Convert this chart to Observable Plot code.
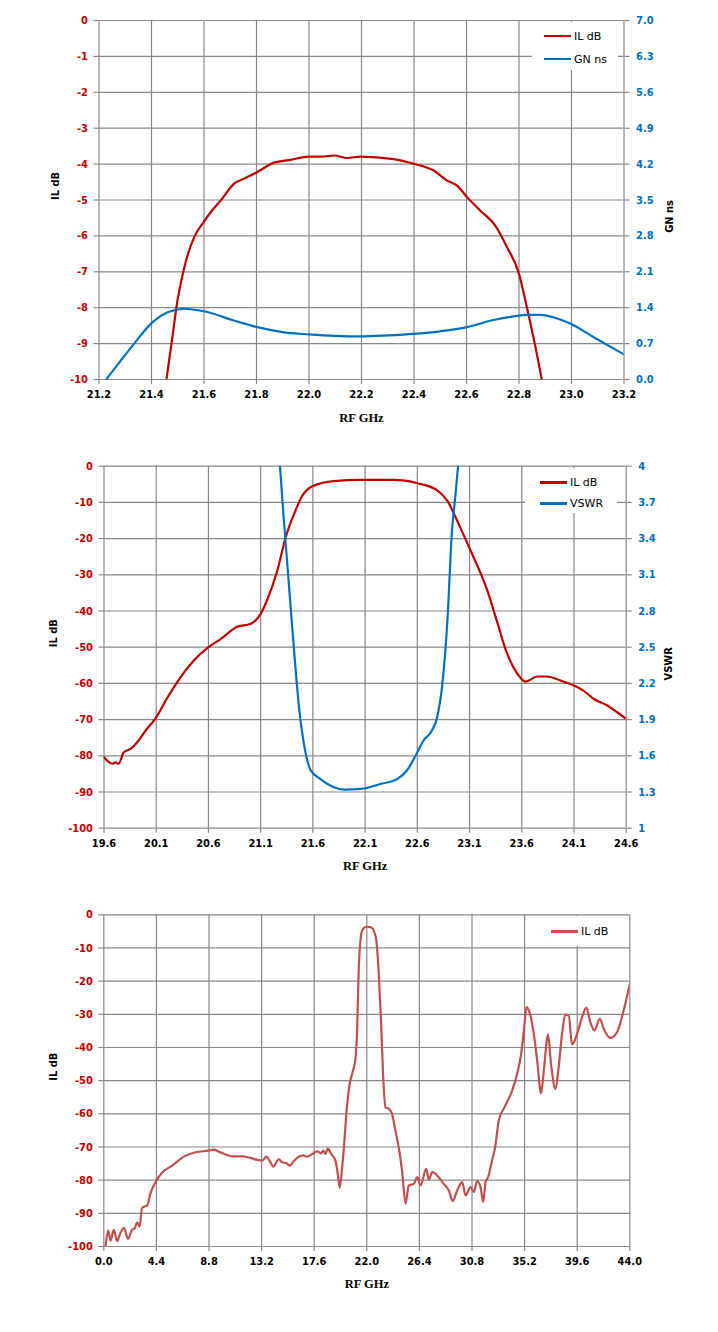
<!DOCTYPE html>
<html><head><meta charset="utf-8">
<script src="https://cdn.jsdelivr.net/npm/d3@7"></script>
<script src="https://cdn.jsdelivr.net/npm/@observablehq/plot@0.6"></script>
<style>
body{margin:0;background:#fff;}
.chart{position:relative;width:718px;overflow:hidden;}
.chart svg{position:absolute;left:0;top:0;}
.legend{position:absolute;background:#fff;z-index:5;}
.row{position:absolute;display:flex;align-items:center;height:14px;font:11px "DejaVu Sans",sans-serif;color:#000;white-space:nowrap;}
.sw{width:27px;height:2.5px;margin-right:3px;}
</style>
</head><body>
<div id="c1" class="chart" style="height:445px"></div>
<div id="c2" class="chart" style="height:445px"></div>
<div id="c3" class="chart" style="height:442px"></div>
<script>
// ---------- data ----------
const x1Ticks = [21.2, 21.4, 21.6, 21.8, 22.0, 22.2, 22.4, 22.6, 22.8, 23.0, 23.2];
const y1Ticks = [0, -1, -2, -3, -4, -5, -6, -7, -8, -9, -10];
const y1rTicks = [0, 0.7, 1.4, 2.1, 2.8, 3.5, 4.2, 4.9, 5.6, 6.3, 7.0];
const il1 = [[21.457,-10],[21.478,-8.9],[21.499,-7.8],[21.518,-7.1],[21.537,-6.55],[21.565,-6.0],[21.6,-5.6],[21.63,-5.3],[21.664,-5.01],[21.714,-4.55],[21.76,-4.38],[21.803,-4.22],[21.867,-3.96],[21.93,-3.88],[22.0,-3.79],[22.05,-3.79],[22.095,-3.76],[22.146,-3.83],[22.196,-3.79],[22.322,-3.86],[22.399,-3.99],[22.475,-4.18],[22.526,-4.46],[22.564,-4.6],[22.602,-4.92],[22.652,-5.29],[22.709,-5.71],[22.754,-6.31],[22.798,-7.01],[22.83,-7.99],[22.86,-9.0],[22.887,-10]];
const gn1 = [[21.227,0],[21.28,0.35],[21.334,0.70],[21.404,1.12],[21.461,1.31],[21.524,1.38],[21.6,1.33],[21.714,1.15],[21.803,1.02],[21.905,0.92],[22.0,0.88],[22.1,0.85],[22.196,0.84],[22.3,0.86],[22.399,0.89],[22.5,0.94],[22.602,1.02],[22.703,1.16],[22.78,1.23],[22.83,1.26],[22.88,1.26],[22.94,1.2],[22.995,1.09],[23.083,0.83],[23.2,0.49]];

const x2Ticks = [19.6, 20.1, 20.6, 21.1, 21.6, 22.1, 22.6, 23.1, 23.6, 24.1, 24.6];
const y2Ticks = [0, -10, -20, -30, -40, -50, -60, -70, -80, -90, -100];
const y2rTicks = [1, 1.3, 1.6, 1.9, 2.2, 2.5, 2.8, 3.1, 3.4, 3.7, 4];
const il2 = [[19.6,-80.4],[19.68,-82.2],[19.71,-81.8],[19.74,-82.2],[19.79,-79.0],[19.855,-78.1],[19.92,-76.2],[20.01,-72.6],[20.09,-69.8],[20.21,-63.8],[20.30,-59.7],[20.46,-53.7],[20.6,-50.0],[20.72,-47.7],[20.88,-44.3],[21.0,-43.6],[21.1,-40.8],[21.16,-37.1],[21.26,-28.8],[21.34,-19.6],[21.42,-13.2],[21.5,-8.1],[21.59,-5.6],[21.8,-4.1],[22.06,-3.8],[22.375,-3.8],[22.6,-4.7],[22.79,-6.7],[22.886,-9.5],[23.01,-16.9],[23.11,-23.3],[23.27,-34.3],[23.36,-42.6],[23.46,-51.8],[23.56,-57.4],[23.635,-59.5],[23.75,-58.1],[23.84,-58.1],[23.97,-59.2],[24.10,-60.6],[24.19,-62.0],[24.29,-64.3],[24.42,-66.1],[24.51,-67.9],[24.6,-69.8]];
const vswr2 = [[21.285,4.0],[21.32,3.577],[21.37,3.025],[21.42,2.47],[21.47,1.978],[21.52,1.67],[21.58,1.478],[21.67,1.409],[21.8,1.34],[21.90,1.32],[22.06,1.326],[22.25,1.367],[22.41,1.409],[22.50,1.478],[22.6,1.63],[22.66,1.727],[22.74,1.81],[22.79,1.92],[22.84,2.196],[22.89,2.749],[22.93,3.44],[22.966,3.77],[22.99,4.0]];

const x3Ticks = [0, 4.4, 8.8, 13.2, 17.6, 22.0, 26.4, 30.8, 35.2, 39.6, 44.0];
const y3Ticks = [0, -10, -20, -30, -40, -50, -60, -70, -80, -90, -100];
const il3 = [[0.14,-100],[0.37,-95.2],[0.56,-98.2],[0.84,-95.0],[1.12,-98.4],[1.31,-96.7],[1.67,-94.4],[2.04,-97.7],[2.32,-95.2],[2.6,-94.4],[2.79,-92.7],[2.99,-94.0],[3.21,-88.3],[3.63,-87.6],[3.91,-83.9],[4.32,-80.6],[4.83,-77.9],[5.72,-75.6],[6.69,-72.9],[7.67,-71.6],[8.78,-71.1],[9.2,-70.8],[9.62,-71.4],[10.74,-72.8],[11.58,-72.8],[12.27,-73.3],[12.83,-73.9],[13.25,-74.1],[13.61,-72.9],[13.89,-74.3],[14.17,-75.9],[14.64,-73.7],[14.92,-74.6],[15.28,-74.9],[15.56,-75.6],[15.89,-74.3],[16.23,-73.1],[16.68,-72.5],[17.01,-72.9],[17.43,-72.1],[17.85,-71.3],[18.18,-71.9],[18.35,-71.1],[18.54,-72.1],[18.74,-70.5],[19.02,-72.1],[19.38,-74.1],[19.57,-78.1],[19.74,-82.3],[19.94,-76.1],[20.13,-68.0],[20.3,-59.5],[20.57,-51.0],[20.85,-46.9],[21.05,-43.4],[21.19,-34.9],[21.33,-15.8],[21.47,-7.7],[21.6,-4.8],[21.8,-3.9],[22.02,-3.6],[22.3,-3.7],[22.5,-4.2],[22.65,-5.5],[22.8,-7.7],[23.0,-17.8],[23.2,-32.9],[23.36,-47.9],[23.56,-58.0],[23.84,-58.5],[24.11,-60.0],[24.39,-65.0],[24.67,-70.1],[24.95,-77.1],[25.24,-87.1],[25.51,-81.6],[25.93,-81.1],[26.22,-79.1],[26.49,-81.6],[26.97,-76.6],[27.19,-79.9],[27.47,-77.6],[27.75,-78.1],[28.02,-79.1],[28.44,-81.1],[28.86,-83.1],[29.19,-86.3],[29.56,-83.1],[29.98,-80.6],[30.26,-84.6],[30.67,-82.1],[30.95,-83.6],[31.23,-80.3],[31.51,-82.1],[31.74,-86.6],[31.93,-80.6],[32.15,-79.1],[32.45,-74.5],[32.76,-69.5],[33.04,-62.0],[33.52,-58.0],[34.16,-53.0],[34.58,-47.9],[34.91,-41.9],[35.14,-34.9],[35.36,-27.8],[35.55,-28.8],[35.97,-35.9],[36.25,-43.9],[36.58,-53.8],[36.81,-46.9],[37.16,-36.1],[37.41,-44.9],[37.78,-52.5],[38.05,-45.9],[38.33,-35.9],[38.61,-30.1],[38.89,-30.4],[39.17,-39.1],[39.59,-35.9],[40.0,-30.9],[40.37,-28.0],[40.7,-32.4],[41.04,-34.9],[41.49,-31.4],[41.82,-34.4],[42.38,-37.1],[42.93,-35.4],[43.49,-28.8],[44.0,-20.8]];

// ---------- styles ----------
const RED = "#C00000", BLUE = "#0070C0", RED3 = "#C0504D", GRID = "#878787";
const FONT = "'DejaVu Sans Condensed','Liberation Sans',sans-serif";
const SERIF = "'Liberation Serif','DejaVu Serif',serif";
const baseStyle = {fontFamily: FONT, fontSize: "11px", background: "transparent", overflow: "visible"};
const gridOpts = {stroke: GRID, strokeOpacity: 1, strokeWidth: 1.2};
const fx = d => d[0], fy = d => d[1];

function leftPlot(cfg) {
  return Plot.plot({
    width: 718, height: cfg.height,
    marginTop: cfg.mt, marginBottom: cfg.mb, marginLeft: cfg.ml, marginRight: cfg.mr,
    x: {domain: cfg.xd}, y: {domain: cfg.yd},
    style: baseStyle,
    marks: [
      Plot.gridX(cfg.xt, gridOpts),
      Plot.gridY(cfg.yt, gridOpts),
      Plot.axisX(cfg.xt, {tickSize: 5, tickPadding: 6, stroke: GRID, strokeWidth: 1.2, fill: "#000", fontWeight: "bold", tickFormat: d => d.toFixed(1), label: null}),
      Plot.axisY(cfg.yt, {anchor: "left", tickSize: 5, tickPadding: 6, stroke: GRID, strokeWidth: 1.2, fill: RED, fontWeight: "bold", tickFormat: d => String(d), label: null}),
      Plot.line(cfg.data, {x: fx, y: fy, stroke: cfg.color, strokeWidth: 2.2, curve: "monotone-x", clip: true}),
      Plot.text([cfg.ylabel], {text: d => d, frameAnchor: "left", dx: cfg.ldx, rotate: -90, fontWeight: "bold", fontSize: 11, fill: "#000"}),
      Plot.text(["RF GHz"], {text: d => d, frameAnchor: "bottom", dy: cfg.xdy, lineAnchor: "middle", fontFamily: SERIF, fontWeight: "bold", fontSize: 12.5, fill: "#000"})
    ]
  });
}
function rightPlot(cfg) {
  return Plot.plot({
    width: 718, height: cfg.height,
    marginTop: cfg.mt, marginBottom: cfg.mb, marginLeft: cfg.ml, marginRight: cfg.mr,
    x: {domain: cfg.xd, axis: null}, y: {domain: cfg.yd, axis: null},
    style: baseStyle,
    marks: [
      Plot.axisY(cfg.yt, {anchor: "right", tickSize: 5, tickPadding: 7, stroke: GRID, strokeWidth: 1.2, fill: BLUE, fontWeight: "bold", tickFormat: cfg.fmt, label: null}),
      Plot.line(cfg.data, {x: fx, y: fy, stroke: BLUE, strokeWidth: 2.2, curve: "monotone-x", clip: true}),
      Plot.text([cfg.ylabel], {text: d => d, frameAnchor: "right", dx: cfg.rdx, rotate: -90, fontWeight: "bold", fontSize: 11, fill: "#000"})
    ]
  });
}
function legend(container, box, rows) {
  const lg = document.createElement("div");
  lg.className = "legend";
  Object.assign(lg.style, {left: box[0] + "px", top: box[1] + "px", width: box[2] + "px", height: box[3] + "px"});
  rows.forEach(r => {
    const row = document.createElement("div");
    row.className = "row";
    row.style.left = r.x + "px"; row.style.top = (r.y - 7) + "px";
    const sw = document.createElement("div"); sw.className = "sw"; sw.style.background = r.color;
    const t = document.createElement("span"); t.textContent = r.label;
    row.appendChild(sw); row.appendChild(t); lg.appendChild(row);
  });
  container.appendChild(lg);
}

// ---------- chart 1 ----------
const c1 = document.getElementById("c1");
const g1 = {height: 445, mt: 20, mb: 66, ml: 98.5, mr: 94.5, xd: [21.2, 23.2]};
c1.appendChild(leftPlot({...g1, yd: [-10, 0], xt: x1Ticks, yt: y1Ticks, data: il1, color: RED, ylabel: "IL dB", ldx: -43.5, xdy: 38}));
c1.appendChild(rightPlot({...g1, yd: [0, 7], yt: y1rTicks, data: gn1, fmt: d => d.toFixed(1), ylabel: "GN ns", rdx: 45.5}));
legend(c1, [532, 22, 86, 48], [{x: 12, y: 14, color: RED, label: "IL dB"}, {x: 12, y: 37, color: BLUE, label: "GN ns"}]);

// ---------- chart 2 ----------
const c2 = document.getElementById("c2");
const g2 = {height: 445, mt: 20.7, mb: 62.3, ml: 103.5, mr: 92.3, xd: [19.6, 24.6]};
c2.appendChild(leftPlot({...g2, yd: [-100, 0], xt: x2Ticks, yt: y2Ticks, data: il2, color: RED, ylabel: "IL dB", ldx: -50.5, xdy: 37.5}));
c2.appendChild(rightPlot({...g2, yd: [1, 4], yt: y2rTicks, data: vswr2, fmt: d => String(d), ylabel: "VSWR", rdx: 42.3}));
legend(c2, [525, 23, 92, 45], [{x: 15, y: 14.7, color: RED, label: "IL dB"}, {x: 15, y: 35.3, color: BLUE, label: "VSWR"}]);

// ---------- chart 3 ----------
const c3 = document.getElementById("c3");
const g3 = {height: 442, mt: 24.3, mb: 86, ml: 103.3, mr: 88.7, xd: [0, 44]};
c3.appendChild(leftPlot({...g3, yd: [-100, 0], xt: x3Ticks, yt: y3Ticks, data: il3, color: RED3, ylabel: "IL dB", ldx: -50.3, xdy: 37}));
legend(c3, [540, 26, 85, 30], [{x: 11, y: 15.7, color: RED3, label: "IL dB"}]);
</script>
</body></html>
